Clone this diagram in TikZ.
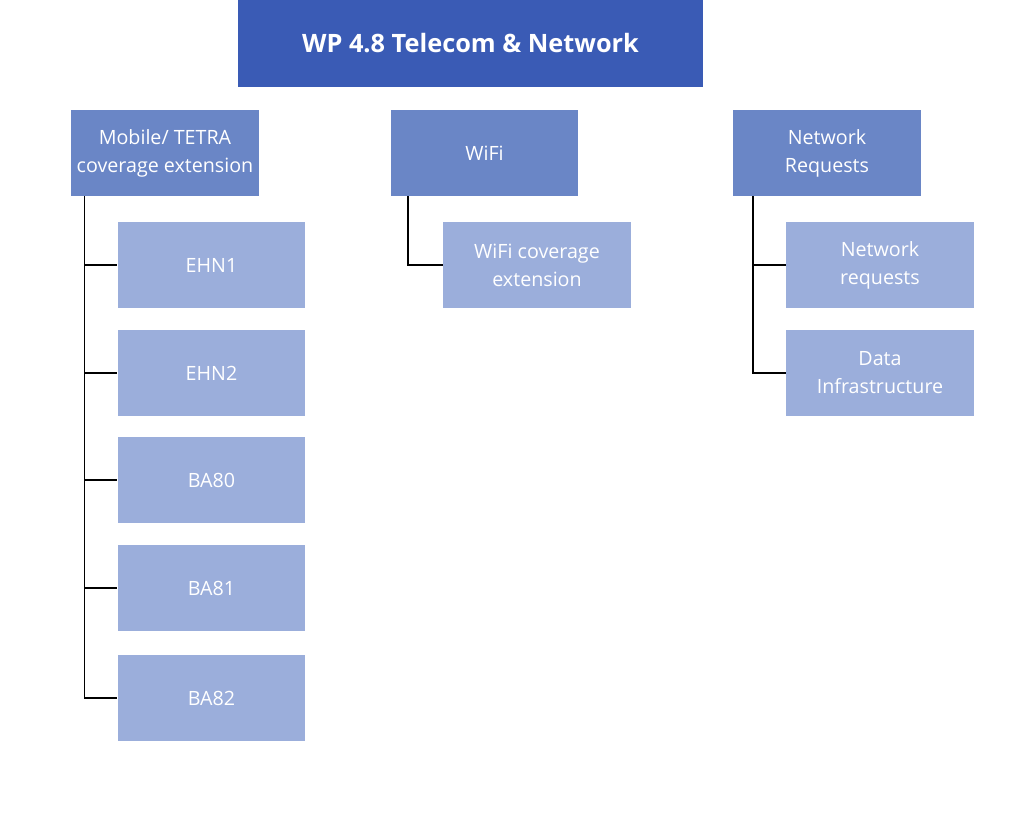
\documentclass[tikz,border=0pt]{standalone}
\usepackage{fontspec}
\setmainfont{Open Sans}
\definecolor{wpblue}{HTML}{3A5BB5}
\definecolor{grpblue}{HTML}{6A86C6}
\definecolor{itemblue}{HTML}{9BAEDB}
\tikzset{
    wpbox/.style={fill=wpblue, text=white, minimum width=9.3cm, minimum height=1.74cm,
        font=\bfseries\fontsize{14.4}{17}\selectfont},
    grpbox/.style={fill=grpblue, text=white, minimum width=3.76cm, minimum height=1.72cm,
        align=center, font=\fontsize{11.2}{15.9}\selectfont},
    itembox/.style={grpbox, fill=itemblue},
    link/.style={draw=black, line width=1.1pt}
}
\begin{document}
\begin{tikzpicture}[x=0.02cm,y=-0.02cm]
        \useasboundingbox (0,0) rectangle (1024,816);
        % top
        \node[wpbox] (wp) at (470.5,43.5) {WP 4.8 Telecom \& Network};
        % groups
        \node[grpbox] (mob) at (165,153) {Mobile/ TETRA\\coverage extension};
        \node[grpbox] (wifi) at (484.5,153) {WiFi};
        \node[grpbox] (net) at (827,153) {Network\\Requests};
        % items
        \node[itembox] (ehn1) at (211.5,265) {EHN1};
        \node[itembox] (ehn2) at (211.5,373) {EHN2};
        \node[itembox] (ba80) at (211.5,480) {BA80};
        \node[itembox] (ba81) at (211.5,588) {BA81};
        \node[itembox] (ba82) at (211.5,698) {BA82};
        \node[itembox] (wificov) at (537,265) {WiFi coverage\\extension};
        \node[itembox] (netreq) at (880,265) {Network\\requests};
        \node[itembox] (datainf) at (880,373) {Data\\Infrastructure};
        % links
        \foreach \n in {ehn1,ehn2,ba80,ba81,ba82}
            \draw[link] ([xshift=0.28cm]mob.south west) |- (\n.west);
        \draw[link] ([xshift=0.36cm]wifi.south west) |- (wificov.west);
        \foreach \n in {netreq,datainf}
            \draw[link] ([xshift=0.4cm]net.south west) |- (\n.west);
\end{tikzpicture}
\end{document}
